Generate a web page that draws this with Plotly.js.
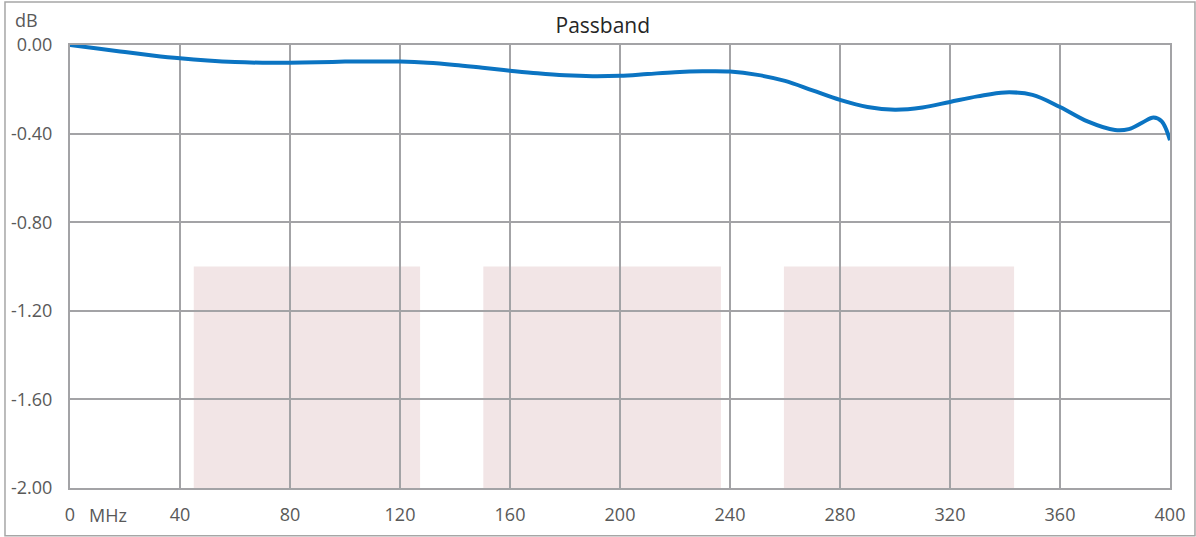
<!DOCTYPE html>
<html>
<head>
<meta charset="utf-8">
<script src="https://cdn.plot.ly/plotly-3.0.1.min.js"></script>
<style>html,body{margin:0;padding:0;background:#fff;}#chart{width:1196px;height:537px;}</style>
</head>
<body>
<div id="chart"></div>
<script>
const freqMHz = [0,10,20,30,40,50,60,70,80,90,100,110,120,130,140,150,160,170,180,190,200,210,220,230,240,250,260,270,280,290,300,310,320,330,340,350,360,370,380,385,390,394,397,400];
const gainDb = [0,-0.016,-0.032,-0.047,-0.060,-0.070,-0.077,-0.080,-0.080,-0.078,-0.075,-0.074,-0.075,-0.080,-0.090,-0.103,-0.116,-0.128,-0.137,-0.141,-0.139,-0.131,-0.123,-0.119,-0.120,-0.135,-0.162,-0.205,-0.248,-0.280,-0.292,-0.282,-0.257,-0.232,-0.214,-0.225,-0.280,-0.345,-0.384,-0.380,-0.350,-0.327,-0.345,-0.430];

const bandStart = [45, 150.3, 259.6];
const bandEnd = [127.3, 236.7, 343.3];
const bandTop = -1.0;
const bandBottom = -2.0;

const xTickVals = [0,40,80,120,160,200,240,280,320,360,400];
const xTickText = ['0','40','80','120','160','200','240','280','320','360','400'];
const yTickVals = [0,-0.4,-0.8,-1.2,-1.6,-2.0];
const yTickText = ['0.00','-0.40','-0.80','-1.20','-1.60','-2.00'];

const gridCol = '#a3a3a6';
const textCol = '#595959';
const fontFam = 'Open Sans, Liberation Sans, sans-serif';

const shapes = bandStart.map((s, i) => ({
  type: 'rect', xref: 'x', yref: 'y', layer: 'below',
  x0: s, x1: bandEnd[i], y0: bandBottom, y1: bandTop,
  fillcolor: '#f2e5e6', line: {width: 0}
}));
shapes.push({
  type: 'rect', xref: 'paper', yref: 'paper', layer: 'above',
  x0: -0.0591, x1: 1.0227, y0: -0.108, y1: 1.097,
  line: {color: '#a6a6a6', width: 1.5}, fillcolor: 'rgba(0,0,0,0)'
});

const trace = {
  x: freqMHz, y: gainDb, type: 'scatter', mode: 'lines',
  line: {color: '#0b74c2', width: 4, shape: 'spline', smoothing: 1},
  hoverinfo: 'x+y', showlegend: false
};

const layout = {
  width: 1196, height: 537,
  margin: {l: 70, r: 26, t: 45, b: 49},
  paper_bgcolor: '#fff', plot_bgcolor: '#fff',
  font: {family: fontFam, color: textCol, size: 18},
  title: {text: 'Passband', x: 0.504, xanchor: 'center', y: 0.952, yanchor: 'middle',
          font: {family: fontFam, size: 21, color: '#262626'}},
  xaxis: {
    range: [0, 400], tickmode: 'array', tickvals: xTickVals, ticktext: xTickText,
    showgrid: true, gridcolor: gridCol, gridwidth: 2,
    showline: true, linecolor: gridCol, linewidth: 2, mirror: true,
    zeroline: false, ticks: '', ticklabelstandoff: 9,
    tickfont: {size: 18, color: textCol, family: fontFam}, fixedrange: true
  },
  yaxis: {
    range: [-2, 0], tickmode: 'array', tickvals: yTickVals, ticktext: yTickText,
    showgrid: true, gridcolor: gridCol, gridwidth: 2,
    showline: true, linecolor: gridCol, linewidth: 2, mirror: true,
    zeroline: false, ticks: '', ticklabelstandoff: 12,
    tickfont: {size: 18, color: textCol, family: fontFam}, fixedrange: true
  },
  shapes: shapes,
  annotations: [
    {text: 'dB', xref: 'paper', yref: 'paper', x: -0.0518, y: 1.057, xanchor: 'left', yanchor: 'middle',
     showarrow: false, font: {size: 18, color: textCol, family: fontFam}},
    {text: 'MHz', xref: 'x', yref: 'paper', x: 6.2, y: -0.06, xanchor: 'left', yanchor: 'middle',
     showarrow: false, font: {size: 18, color: textCol, family: fontFam}}
  ]
};

Plotly.newPlot('chart', [trace], layout, {displayModeBar: false, staticPlot: true});
</script>
</body>
</html>
